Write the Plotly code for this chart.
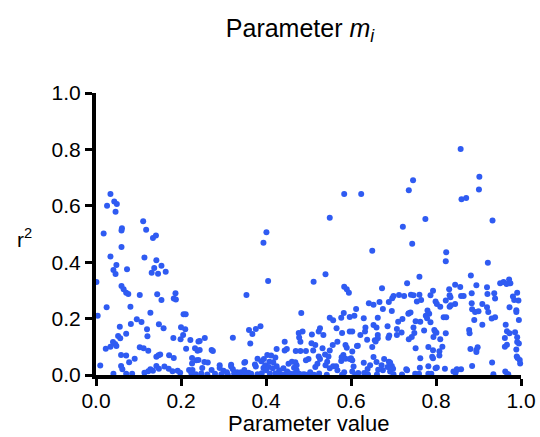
import plotly.graph_objects as go

# (parameter value, r^2) pairs, grouped by x region
region_a = [
    (0.034,0.642),(0.026,0.600),(0.043,0.615),(0.049,0.606),(0.046,0.579),(0.018,0.502),(0.061,0.520),(0.060,0.512),
    (0.111,0.545),(0.118,0.515),(0.134,0.486),(0.141,0.495),(0.060,0.454),(0.034,0.420),(0.048,0.390),(0.041,0.372),
    (0.046,0.358),(0.073,0.375),(0.114,0.417),(0.142,0.407),(0.137,0.379),(0.154,0.387),(0.131,0.363),(0.146,0.359),
    (0.164,0.366),(0.001,0.330),(0.060,0.316),(0.065,0.304),(0.071,0.292),(0.076,0.287),(0.103,0.284),(0.144,0.286),
    (0.154,0.266),(0.187,0.290),(0.183,0.271),(0.188,0.268),(0.025,0.240),(0.081,0.242),(0.004,0.210),(0.128,0.221),
    (0.096,0.198),(0.082,0.181),(0.107,0.188),(0.148,0.180),(0.159,0.166),(0.206,0.215),(0.211,0.215),(0.200,0.169),
    (0.210,0.162),(0.056,0.171),(0.071,0.146),(0.052,0.138),(0.057,0.130),(0.120,0.162),(0.121,0.137),(0.182,0.131),
    (0.199,0.127),(0.222,0.124),(0.241,0.119),(0.040,0.117),(0.045,0.110),(0.048,0.103),(0.023,0.093),(0.034,0.100),
    (0.103,0.098),(0.112,0.095),(0.123,0.086),(0.212,0.093),(0.233,0.095),(0.239,0.086),(0.059,0.071),(0.071,0.069),
    (0.151,0.073),(0.142,0.065),(0.147,0.070),(0.172,0.070),(0.183,0.060),(0.091,0.058),(0.078,0.045),(0.226,0.060),
    (0.236,0.052),(0.241,0.053),(0.226,0.041),(0.010,0.034),(0.059,0.032),(0.062,0.020),(0.142,0.032),(0.148,0.022),
    (0.161,0.030),(0.171,0.022),(0.128,0.020),(0.123,0.013),(0.114,0.008),(0.134,0.015),(0.192,0.015),(0.180,0.013),
    (0.198,0.008),(0.219,0.018),(0.227,0.018),(0.224,0.008),(0.041,0.004),(0.071,0.004),(0.085,0.004),(0.205,0.142),
]

region_b = [
    (0.401,0.506),(0.394,0.469),(0.405,0.333),(0.354,0.284),(0.387,0.173),(0.376,0.163),(0.360,0.160),(0.368,0.145),
    (0.363,0.112),(0.322,0.132),(0.256,0.131),(0.244,0.121),(0.244,0.089),(0.272,0.089),(0.275,0.085),(0.255,0.046),
    (0.263,0.044),(0.380,0.058),(0.389,0.049),(0.351,0.046),(0.376,0.030),(0.394,0.025),(0.250,0.025),(0.272,0.018),
    (0.291,0.025),(0.318,0.030),(0.322,0.020),(0.332,0.010),(0.349,0.018),(0.300,0.015),(0.308,0.010),(0.341,0.010),
    (0.359,0.008),(0.374,0.037),(0.318,0.036),(0.291,0.035),(0.349,0.043),
    (0.235,0.003),(0.248,0.005),(0.262,0.002),(0.280,0.004),(0.295,0.003),(0.310,0.002),(0.325,0.005),(0.338,0.003),
    (0.352,0.002),(0.365,0.004),(0.380,0.003),(0.390,0.006),(0.430,0.003),(0.448,0.004),(0.462,0.002),(0.478,0.004),
    (0.490,0.003),
]

region_c = [
    (0.483,0.220),(0.550,0.203),(0.558,0.194),(0.577,0.203),(0.583,0.220),(0.477,0.149),(0.486,0.154),(0.478,0.133),
    (0.481,0.118),(0.508,0.144),(0.524,0.154),(0.527,0.166),(0.535,0.142),(0.566,0.166),(0.579,0.149),(0.597,0.154),
    (0.444,0.118),(0.425,0.092),(0.444,0.087),(0.449,0.092),(0.507,0.113),(0.516,0.106),(0.511,0.087),(0.533,0.095),
    (0.550,0.087),(0.557,0.106),(0.539,0.073),(0.547,0.066),(0.568,0.118),(0.587,0.106),(0.590,0.097),(0.582,0.071),
    (0.577,0.050),(0.600,0.059),(0.603,0.052),(0.603,0.083),(0.470,0.085),(0.481,0.085),(0.494,0.085),(0.500,0.057),
    (0.494,0.052),(0.524,0.066),(0.527,0.057),(0.521,0.040),(0.516,0.028),(0.540,0.035),(0.544,0.047),(0.550,0.024),
    (0.558,0.031),(0.565,0.031),(0.568,0.017),(0.584,0.010),(0.472,0.035),(0.461,0.047),(0.469,0.045),(0.453,0.040),
    (0.466,0.026),(0.472,0.017),(0.486,0.002),(0.497,0.001),(0.504,0.010),(0.513,0.001),(0.525,0.005),(0.543,0.001),
    (0.579,0.001),(0.403,0.071),(0.412,0.069),(0.422,0.062),(0.395,0.057),(0.408,0.047),(0.417,0.045),(0.398,0.035),
    (0.406,0.028),(0.416,0.024),(0.425,0.031),(0.431,0.017),(0.441,0.024),(0.450,0.012),(0.400,0.017),(0.409,0.005),
    (0.422,0.005),(0.439,0.002),(0.456,0.005),(0.467,0.005),(0.578,0.063),(0.587,0.058),
    (0.584,0.642),(0.550,0.558),(0.540,0.357),(0.512,0.331),(0.584,0.313),(0.590,0.304),(0.595,0.292),
]

region_d = [
    (0.624,0.642),(0.650,0.441),(0.673,0.308),(0.642,0.254),(0.653,0.249),(0.667,0.259),(0.689,0.259),(0.697,0.272),
    (0.700,0.280),(0.713,0.284),(0.746,0.691),(0.736,0.655),(0.722,0.526),(0.775,0.553),(0.744,0.465),(0.761,0.348),
    (0.732,0.325),(0.725,0.280),(0.741,0.285),(0.747,0.283),(0.761,0.285),(0.787,0.283),(0.793,0.299),(0.755,0.261),
    (0.765,0.266),(0.799,0.261),(0.612,0.234),(0.675,0.234),(0.597,0.206),(0.608,0.210),(0.780,0.229),(0.784,0.217),
    (0.776,0.210),(0.779,0.201),(0.763,0.189),(0.787,0.187),(0.721,0.199),(0.711,0.189),(0.735,0.217),(0.740,0.222),
    (0.772,0.158),(0.630,0.201),(0.634,0.168),(0.633,0.154),(0.653,0.177),(0.660,0.168),(0.686,0.173),(0.708,0.163),
    (0.708,0.142),(0.719,0.151),(0.747,0.168),(0.752,0.191),(0.663,0.142),(0.663,0.130),(0.656,0.123),(0.638,0.125),
    (0.603,0.154),(0.622,0.142),(0.616,0.104),(0.650,0.099),(0.688,0.132),(0.690,0.140),(0.743,0.135),(0.749,0.149),
    (0.798,0.154),(0.794,0.135),(0.752,0.095),(0.782,0.099),(0.793,0.088),(0.763,0.059),(0.793,0.059),(0.782,0.031),
    (0.799,0.024),(0.762,0.026),(0.732,0.017),(0.678,0.057),(0.653,0.064),(0.597,0.057),(0.630,0.043),(0.645,0.035),
    (0.672,0.035),(0.686,0.028),(0.689,0.047),(0.675,0.017),(0.692,0.012),(0.664,0.019),(0.639,0.021),(0.631,0.007),
    (0.606,0.030),(0.603,0.012),(0.617,0.007),(0.661,0.002),(0.751,0.004),(0.760,0.004),(0.782,0.004),(0.789,0.004),
    (0.663,0.203),(0.696,0.227),(0.660,0.046),(0.736,0.127),(0.736,0.219),(0.791,0.065),(0.730,0.020),(0.696,0.032),
    (0.699,0.022),(0.692,0.044),(0.614,0.103),(0.658,0.119),(0.610,0.001),(0.640,0.002),(0.700,0.003),(0.720,0.002),
]

region_e = [
    (0.858,0.801),(0.902,0.703),(0.901,0.658),(0.860,0.623),(0.871,0.628),(0.933,0.548),(0.824,0.435),(0.823,0.403),
    (0.922,0.398),(0.882,0.353),(0.845,0.320),(0.857,0.312),(0.831,0.304),(0.895,0.318),(0.920,0.311),(0.951,0.325),
    (0.959,0.330),(0.972,0.339),(0.975,0.325),(0.966,0.323),(0.832,0.283),(0.859,0.280),(0.865,0.280),(0.884,0.290),
    (0.921,0.287),(0.937,0.290),(0.991,0.292),(0.823,0.264),(0.834,0.276),(0.845,0.252),(0.884,0.254),(0.909,0.252),
    (0.939,0.271),(0.981,0.278),(0.984,0.266),(0.994,0.264),(0.973,0.240),(0.802,0.252),(0.810,0.242),(0.832,0.242),
    (0.835,0.247),(0.818,0.205),(0.824,0.205),(0.885,0.233),(0.892,0.223),(0.900,0.226),(0.920,0.240),(0.923,0.223),
    (0.931,0.200),(0.939,0.205),(0.989,0.230),(0.989,0.223),(0.890,0.195),(0.909,0.178),(0.964,0.178),(0.995,0.195),
    (0.796,0.160),(0.801,0.150),(0.823,0.148),(0.878,0.160),(0.879,0.148),(0.967,0.155),(0.973,0.148),(0.986,0.152),
    (0.991,0.134),(0.962,0.131),(0.962,0.100),(0.967,0.107),(0.991,0.117),(0.995,0.112),(0.810,0.127),(0.815,0.100),
    (0.808,0.084),(0.881,0.092),(0.895,0.089),(0.898,0.098),(0.895,0.082),(0.992,0.060),(0.997,0.053),(0.932,0.044),
    (0.885,0.032),(0.859,0.020),(0.849,0.020),(0.821,0.022),(0.802,0.027),(0.998,0.041),(0.846,0.008),(0.963,0.012),
    (0.970,0.003),(0.808,0.069),(0.989,0.090),(0.990,0.066),(0.841,0.012),(0.935,0.003),(0.968,0.003),(0.850,0.019),
]

regions = [region_a, region_b, region_c, region_d, region_e]
param_value = [p[0] for r in regions for p in r]
r_squared = [p[1] for r in regions for p in r]

x_ticks = [0.0, 0.2, 0.4, 0.6, 0.8, 1.0]
y_ticks = [0.0, 0.2, 0.4, 0.6, 0.8, 1.0]
tick_text = ["0.0", "0.2", "0.4", "0.6", "0.8", "1.0"]

FONT = "Liberation Sans, Arial, sans-serif"
FIG_W, FIG_H = 540, 437

fig = go.Figure(go.Scatter(
    x=param_value, y=r_squared, mode="markers",
    marker=dict(color="#2f5bf2", size=6, line=dict(width=0)),
    cliponaxis=False, hoverinfo="skip",
))

axis_common = dict(
    showgrid=False, zeroline=False, showline=True, linecolor="black", linewidth=4,
    ticks="outside", ticklen=7, tickwidth=3, tickcolor="black",
    tickfont=dict(family=FONT, size=21, color="black"),
    mirror=False, automargin=False, ticklabeloverflow="allow",
)

fig.update_layout(
    width=FIG_W, height=FIG_H,
    margin=dict(l=96, r=19, t=93, b=62),
    paper_bgcolor="white", plot_bgcolor="white",
    showlegend=False,
    title=dict(text="Parameter <i>m</i><sub><i>i</i></sub>", x=300/FIG_W, xanchor="center",
               y=1 - 28/FIG_H, yanchor="middle", yref="container",
               font=dict(family=FONT, size=25, color="black")),
    xaxis=dict(range=[0, 1], tickvals=x_ticks, ticktext=tick_text, ticklabelstandoff=-3, **axis_common),
    yaxis=dict(range=[0, 1], tickvals=y_ticks, ticktext=tick_text, **axis_common),
    annotations=[
        dict(text="r<sup>2</sup>", xref="paper", yref="paper", x=-0.169, y=0.486,
             xanchor="center", yanchor="middle", showarrow=False,
             font=dict(family=FONT, size=21, color="black")),
        dict(text="Parameter value", xref="paper", yref="paper", x=0.5, y=-0.171,
             xanchor="center", yanchor="middle", showarrow=False,
             font=dict(family=FONT, size=22, color="black")),
    ],
)

# remove the browser's default 8px body margin so the figure fills the window exactly
fig.write_html("out.html", config={"displayModeBar": False},
               post_script="document.body.style.margin='0';")
